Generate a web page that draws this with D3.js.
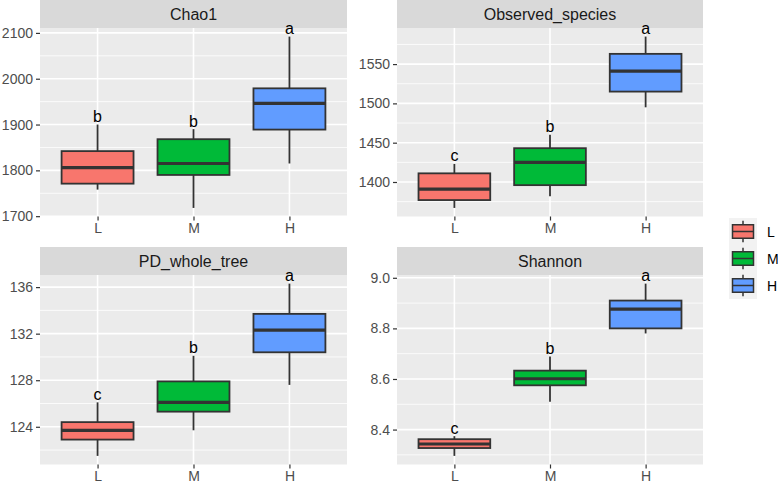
<!DOCTYPE html>
<html>
<head>
<meta charset="utf-8">
<script src="https://cdn.jsdelivr.net/npm/d3@7"></script>
<style>
  body { margin: 0; background: #fff; }
  svg { display: block; font-family: "Liberation Sans", Arial, sans-serif; }
</style>
</head>
<body>
<svg id="chart" width="778" height="484"></svg>
<script>
// groups and fill colours
const groups = ["L", "M", "H"];
const fills = ["#F8766D", "#00BA38", "#619CFF"];

// facet titles
const metrics = ["Chao1", "Observed_species", "PD_whole_tree", "Shannon"];

// [lower whisker, q1, median, q3, upper whisker] for L, M, H
const chao1 = [[1758, 1771, 1806, 1842, 1900], [1718, 1790, 1815, 1868, 1890], [1815, 1889, 1946, 1979, 2092]];
const observed = [[1367, 1377, 1391, 1411, 1423], [1382, 1396, 1425, 1443, 1460], [1495, 1515, 1541, 1563, 1585]];
const pdTree = [[121.5, 122.9, 123.7, 124.4, 126.1], [123.7, 125.3, 126.1, 127.9, 130.1], [127.6, 130.4, 132.3, 133.7, 136.3]];
const shannon = [[8.296, 8.327, 8.343, 8.362, 8.374], [8.51, 8.575, 8.601, 8.633, 8.689], [8.78, 8.80, 8.876, 8.91, 8.977]];

// significance letters
const chao1Letters = ["b", "b", "a"];
const observedLetters = ["c", "b", "a"];
const pdTreeLetters = ["c", "b", "a"];
const shannonLetters = ["c", "b", "a"];

// y tick labels
const chao1Ticks = [1700, 1800, 1900, 2000, 2100];
const observedTicks = [1400, 1450, 1500, 1550];
const pdTreeTicks = [124, 128, 132, 136];
const shannonTicks = [8.4, 8.6, 8.8, 9.0];

const svg = d3.select("#chart");

// panel boxes: columns (x0, x1), rows (strip top, panel top, panel bottom)
const cols = [[40, 347], [397, 703]];
const rows = [[0, 28, 216.5], [247, 275, 464.5]];

const panels = [
  { title: metrics[0], stats: chao1, letters: chao1Letters, ticks: chao1Ticks, fmt: d3.format("d"), col: 0, row: 0 },
  { title: metrics[1], stats: observed, letters: observedLetters, ticks: observedTicks, fmt: d3.format("d"), col: 1, row: 0 },
  { title: metrics[2], stats: pdTree, letters: pdTreeLetters, ticks: pdTreeTicks, fmt: d3.format("d"), col: 0, row: 1 },
  { title: metrics[3], stats: shannon, letters: shannonLetters, ticks: shannonTicks, fmt: d3.format(".1f"), col: 1, row: 1 }
];

panels.forEach(p => {
  const [x0, x1] = cols[p.col];
  const [sTop, pTop, pBot] = rows[p.row];

  // y domain = data range expanded by 5% like ggplot
  const lo = d3.min(p.stats, d => d[0]);
  const hi = d3.max(p.stats, d => d[4]);
  const pad = (hi - lo) * 0.05;
  const y = d3.scaleLinear().domain([lo - pad, hi + pad]).range([pBot, pTop]);
  const x = d3.scalePoint().domain(groups).range([x0, x1]).padding(0.6);
  const bw = x.step() * 0.75;

  const g = svg.append("g");

  // strip
  g.append("rect").attr("x", x0).attr("y", sTop).attr("width", x1 - x0).attr("height", pTop - sTop)
    .attr("fill", "#D9D9D9");
  g.append("text").attr("x", (x0 + x1) / 2).attr("y", (sTop + pTop) / 2 + 6)
    .attr("text-anchor", "middle").attr("font-size", 16).attr("fill", "#1A1A1A").text(p.title);

  // panel background
  g.append("rect").attr("x", x0).attr("y", pTop).attr("width", x1 - x0).attr("height", pBot - pTop)
    .attr("fill", "#EBEBEB");

  // minor grid
  const step = p.ticks[1] - p.ticks[0];
  const minors = [p.ticks[0] - step / 2].concat(p.ticks.map(t => t + step / 2))
    .filter(v => v > y.domain()[0] && v < y.domain()[1]);
  g.selectAll(".minor").data(minors).join("line")
    .attr("x1", x0).attr("x2", x1).attr("y1", d => y(d)).attr("y2", d => y(d))
    .attr("stroke", "#fff").attr("stroke-width", 0.8);

  // major grid
  g.selectAll(".major").data(p.ticks).join("line")
    .attr("x1", x0).attr("x2", x1).attr("y1", d => y(d)).attr("y2", d => y(d))
    .attr("stroke", "#fff").attr("stroke-width", 1.6);
  g.selectAll(".vgrid").data(groups).join("line")
    .attr("x1", d => x(d)).attr("x2", d => x(d)).attr("y1", pTop).attr("y2", pBot)
    .attr("stroke", "#fff").attr("stroke-width", 1.6);

  // axes
  const yAxis = g.append("g").attr("transform", `translate(${x0},0)`)
    .call(d3.axisLeft(y).tickValues(p.ticks).tickFormat(p.fmt).tickSize(4).tickPadding(3));
  const xAxis = g.append("g").attr("transform", `translate(0,${pBot})`)
    .call(d3.axisBottom(x).tickSize(4).tickPadding(3));
  [yAxis, xAxis].forEach(a => {
    a.select(".domain").remove();
    a.selectAll(".tick line").attr("stroke", "#333").attr("stroke-width", 1.2);
    a.selectAll(".tick text").attr("fill", "#4D4D4D").attr("font-size", 14)
      .attr("font-family", "Liberation Sans, Arial, sans-serif");
  });

  // boxes
  const box = g.selectAll(".box").data(p.stats).join("g");
  box.append("line")
    .attr("x1", (d, i) => x(groups[i])).attr("x2", (d, i) => x(groups[i]))
    .attr("y1", d => y(d[4])).attr("y2", d => y(d[3]))
    .attr("stroke", "#333").attr("stroke-width", 1.8);
  box.append("line")
    .attr("x1", (d, i) => x(groups[i])).attr("x2", (d, i) => x(groups[i]))
    .attr("y1", d => y(d[1])).attr("y2", d => y(d[0]))
    .attr("stroke", "#333").attr("stroke-width", 1.8);
  box.append("rect")
    .attr("x", (d, i) => x(groups[i]) - bw / 2).attr("width", bw)
    .attr("y", d => y(d[3])).attr("height", d => y(d[1]) - y(d[3]))
    .attr("fill", (d, i) => fills[i]).attr("stroke", "#333").attr("stroke-width", 1.8);
  box.append("line")
    .attr("x1", (d, i) => x(groups[i]) - bw / 2).attr("x2", (d, i) => x(groups[i]) + bw / 2)
    .attr("y1", d => y(d[2])).attr("y2", d => y(d[2]))
    .attr("stroke", "#333").attr("stroke-width", 3.2);

  // letters
  g.selectAll(".letter").data(p.stats).join("text")
    .attr("x", (d, i) => x(groups[i])).attr("y", d => y(d[4]) - 2.5)
    .attr("text-anchor", "middle").attr("font-size", 16).attr("fill", "#000")
    .text((d, i) => p.letters[i]);
});

// legend
const keyX = 729, keyY = 218, keyW = 28, keyH = 27;
const legend = svg.append("g").selectAll("g").data(groups).join("g")
  .attr("transform", (d, i) => `translate(${keyX},${keyY + i * keyH})`);
legend.append("rect").attr("width", keyW).attr("height", keyH).attr("fill", "#F2F2F2");
legend.append("line").attr("x1", keyW / 2).attr("x2", keyW / 2)
  .attr("y1", keyH * 0.1).attr("y2", keyH * 0.9).attr("stroke", "#333").attr("stroke-width", 1.5);
legend.append("rect").attr("x", keyW * 0.125).attr("width", keyW * 0.75)
  .attr("y", keyH * 0.25).attr("height", keyH * 0.5)
  .attr("fill", (d, i) => fills[i]).attr("stroke", "#333").attr("stroke-width", 1.5);
legend.append("line").attr("x1", keyW * 0.125).attr("x2", keyW * 0.875)
  .attr("y1", keyH / 2).attr("y2", keyH / 2).attr("stroke", "#333").attr("stroke-width", 1.5);
legend.append("text").attr("x", keyW + 10).attr("y", keyH / 2 + 5)
  .attr("font-size", 14).attr("fill", "#000").text(d => d);
</script>
</body>
</html>
